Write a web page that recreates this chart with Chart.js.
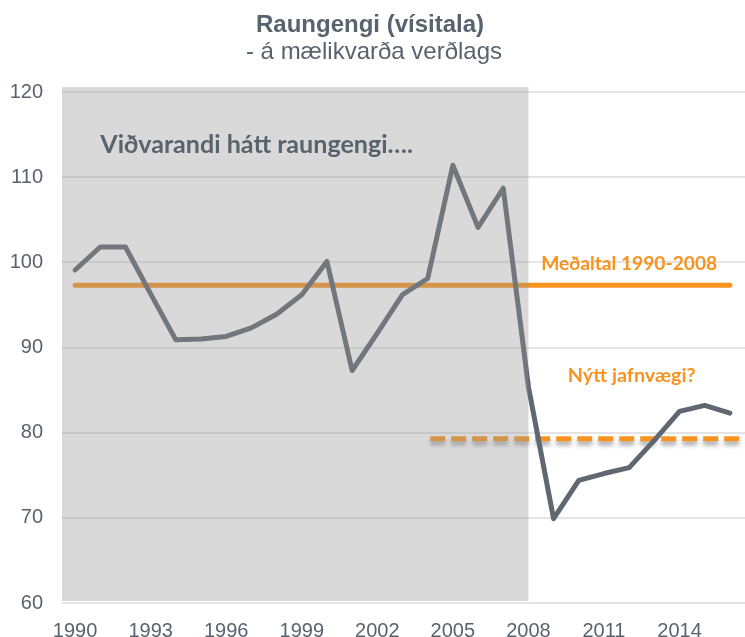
<!DOCTYPE html>
<html>
<head>
<meta charset="utf-8">
<script src="https://cdn.jsdelivr.net/npm/chart.js@4.4.0/dist/chart.umd.min.js"></script>
<style>
  html, body { margin: 0; padding: 0; background: #fff; }
  #wrap { width: 745px; height: 637px; }
</style>
</head>
<body>
<div id="wrap"><canvas id="chart"></canvas></div>
<script>
'use strict'

/* ------------------------------ Data ------------------------------ */

const years = [1990, 1991, 1992, 1993, 1994, 1995, 1996, 1997, 1998, 1999,
  2000, 2001, 2002, 2003, 2004, 2005, 2006, 2007, 2008, 2009,
  2010, 2011, 2012, 2013, 2014, 2015, 2016]
const raungengi = [99.1, 101.8, 101.8, 96.3, 90.9, 91.0, 91.3, 92.3, 93.9, 96.2,
  100.1, 87.3, 91.7, 96.2, 98.1, 111.4, 104.1, 108.7, 85.4, 69.9,
  74.4, 75.2, 75.9, 79.1, 82.5, 83.2, 82.3]

// Meðaltal 1990-2008 (solid) and the "new equilibrium" guess (dashed)
const meanYears = [1990, 2016]
const meanValue = 97.3
const newEqYears = [2004.1, 2016.6]
const newEqValue = 79.3

const xTicks = [1990, 1993, 1996, 1999, 2002, 2005, 2008, 2011, 2014]
const xTickLabels = ['1990', '1993', '1996', '1999', '2002', '2005', '2008', '2011', '2014']
const yTicks = [60, 70, 80, 90, 100, 110, 120]

const shadeTo = 2008

const title = 'Raungengi (vísitala)'
const subtitle = '- á mælikvarða verðlags'
const noteHigh = 'Viðvarandi hátt raungengi….'
const noteMean = 'Meðaltal 1990-2008'
const noteNew = 'Nýtt jafnvægi?'

/* ------------------------------ Styles ------------------------------ */

const textColor = '#59636E'
const lineGrey = '#5F6770'
const orange = '#F7931E'
const tickFont = { family: '"Liberation Sans", Arial, sans-serif', size: 20 }

// scale a bold font so the text takes the wanted width
function fitFont (ctx, text, family, width) {
  ctx.font = `bold 20px ${family}`
  const size = 20 * width / ctx.measureText(text).width
  return `bold ${size.toFixed(1)}px ${family}`
}

const extrasPlugin = {
  id: 'extras',
  beforeDatasetDraw (chart, args) {
    if (args.index === 2) {
      const ctx = chart.ctx
      ctx.save()
      ctx.shadowColor = 'rgba(0,0,0,0.35)'
      ctx.shadowBlur = 4
      ctx.shadowOffsetY = 4
    }
  },
  afterDatasetDraw (chart, args) {
    if (args.index === 2) chart.ctx.restore()
  },
  afterDatasetsDraw (chart) {
    const { ctx, chartArea, scales: { x, y } } = chart
    const right = x.getPixelForValue(shadeTo)
    const top = y.getPixelForValue(120) - 5
    const bottom = y.getPixelForValue(60) - 2
    ctx.save()
    ctx.fillStyle = 'rgba(150,150,150,0.36)'
    ctx.fillRect(chartArea.left, top, right - chartArea.left, bottom - top)
    ctx.restore()
  },
  afterDraw (chart) {
    const { ctx, scales: { x, y } } = chart
    ctx.save()
    ctx.fillStyle = textColor
    ctx.textBaseline = 'alphabetic'
    ctx.textAlign = 'center'
    ctx.font = 'bold 24px "Liberation Sans", Arial, sans-serif'
    ctx.fillText(title, 370, 32)
    ctx.font = '24px "Liberation Sans", Arial, sans-serif'
    ctx.fillText(subtitle, 374, 59)

    const fam = 'Lato, "Open Sans", sans-serif'
    ctx.textAlign = 'left'
    ctx.font = fitFont(ctx, noteHigh, fam, 313)
    ctx.fillText(noteHigh, x.getPixelForValue(1991), y.getPixelForValue(112.85))

    ctx.fillStyle = orange
    ctx.textAlign = 'center'
    ctx.font = fitFont(ctx, noteMean, fam, 176)
    ctx.fillText(noteMean, x.getPixelForValue(2012), y.getPixelForValue(99.1))
    ctx.font = fitFont(ctx, noteNew, fam, 128)
    ctx.fillText(noteNew, x.getPixelForValue(2012.1), y.getPixelForValue(85.95))
    ctx.restore()
  }
}

/* ------------------------------ Chart ------------------------------ */

const ctx = document.getElementById('chart').getContext('2d')

new Chart(ctx, {
  type: 'line',
  data: {
    datasets: [{
      label: 'Raungengi',
      data: years.map((yr, i) => ({ x: yr, y: raungengi[i] })),
      borderColor: lineGrey,
      borderWidth: 5,
      borderCapStyle: 'round',
      borderJoinStyle: 'round',
      pointRadius: 0,
      tension: 0
    }, {
      label: 'Meðaltal',
      data: meanYears.map(yr => ({ x: yr, y: meanValue })),
      borderColor: orange,
      borderWidth: 5,
      borderCapStyle: 'round',
      pointRadius: 0
    }, {
      label: 'Nýtt jafnvægi',
      data: newEqYears.map(yr => ({ x: yr, y: newEqValue })),
      borderColor: orange,
      borderWidth: 5,
      borderDash: [15, 6],
      pointRadius: 0
    }]
  },
  options: {
    responsive: true,
    maintainAspectRatio: false,
    animation: false,
    devicePixelRatio: 1,
    layout: { padding: { top: 92, left: 0, right: 0, bottom: 0 } },
    plugins: {
      legend: { display: false },
      tooltip: { enabled: false }
    },
    scales: {
      x: {
        type: 'linear',
        min: 1989.48,
        max: 2016.6,
        grid: { display: false, drawTicks: false },
        border: { display: false },
        afterBuildTicks: scale => { scale.ticks = xTicks.map(v => ({ value: v })) },
        afterFit: scale => { scale.height = 34 },
        ticks: {
          padding: 16,
          color: textColor,
          font: tickFont,
          maxRotation: 0,
          autoSkip: false,
          callback: (v, i) => xTickLabels[i]
        }
      },
      y: {
        min: 60,
        max: 120,
        afterBuildTicks: scale => { scale.ticks = yTicks.map(v => ({ value: v })) },
        afterFit: scale => { scale.width = 62 },
        grid: { color: '#E4E4E4', lineWidth: 2, drawTicks: false },
        border: { display: false },
        ticks: {
          padding: 19,
          color: textColor,
          font: tickFont
        }
      }
    }
  },
  plugins: [extrasPlugin]
})
</script>
</body>
</html>
